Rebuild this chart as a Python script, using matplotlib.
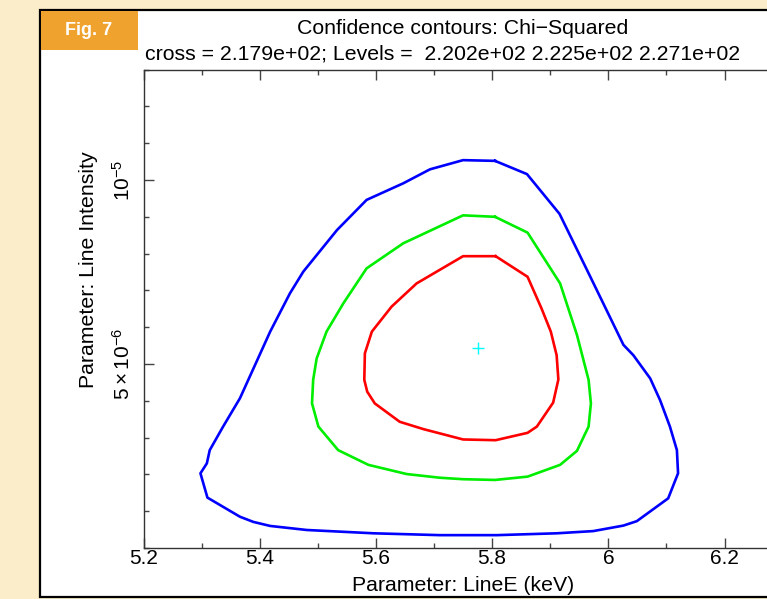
import numpy as np
import matplotlib
matplotlib.use("Agg")
import matplotlib.pyplot as plt
from matplotlib.patches import Rectangle
from matplotlib.ticker import FixedLocator, MultipleLocator

plt.rcParams['font.family'] = ['Liberation Sans', 'DejaVu Sans']
plt.rcParams['mathtext.fontset'] = 'custom'
plt.rcParams['mathtext.rm'] = 'Liberation Sans'
plt.rcParams['mathtext.it'] = 'Liberation Sans'

# contour lines (LineE in keV, intensity in 1e-6)
blue_x = [5.805, 5.750, 5.693, 5.647, 5.584, 5.533, 5.475, 5.452, 5.418, 5.366,
          5.337, 5.314, 5.309, 5.298, 5.310, 5.366, 5.389, 5.418, 5.481, 5.596,
          5.710, 5.808, 5.911, 5.974, 6.026, 6.049, 6.103, 6.120, 6.118, 6.106,
          6.089, 6.072, 6.043, 6.026, 5.969, 5.916, 5.860]
blue_y = [10.52, 10.54, 10.29, 9.91, 9.46, 8.64, 7.51, 6.92, 5.88, 4.07,
          3.30, 2.66, 2.30, 2.03, 1.37, 0.85, 0.71, 0.60, 0.49, 0.40,
          0.35, 0.35, 0.40, 0.46, 0.61, 0.73, 1.35, 2.03, 2.66, 3.30,
          4.02, 4.61, 5.24, 5.52, 7.37, 9.08, 10.16]

green_x = [5.805, 5.750, 5.647, 5.584, 5.544, 5.515, 5.498, 5.492, 5.490, 5.501,
           5.535, 5.587, 5.653, 5.710, 5.750, 5.805, 5.861, 5.917, 5.946, 5.966,
           5.970, 5.966, 5.946, 5.917, 5.861]
green_y = [9.00, 9.04, 8.28, 7.60, 6.65, 5.88, 5.15, 4.57, 3.93, 3.30,
           2.66, 2.26, 2.01, 1.91, 1.87, 1.85, 1.94, 2.26, 2.64, 3.30,
           3.93, 4.57, 5.79, 7.19, 8.57]

red_x = [5.806, 5.750, 5.670, 5.627, 5.593, 5.581, 5.580, 5.585, 5.598, 5.641,
         5.682, 5.750, 5.806, 5.861, 5.877, 5.905, 5.914, 5.911, 5.901, 5.885,
         5.861]
red_y = [7.93, 7.93, 7.19, 6.56, 5.88, 5.29, 4.57, 4.25, 3.93, 3.43,
         3.23, 2.95, 2.93, 3.13, 3.30, 3.95, 4.58, 5.24, 5.88, 6.51,
         7.37]

best_x = 5.776
best_y = 5.43

fig = plt.figure(figsize=(7.67, 5.99), dpi=100)
fig.patch.set_facecolor('#fbecca')

# white panel with black frame, kept behind the axes
fig.patches.append(Rectangle((0.0522, 0.0035), 1.0, 0.980, transform=fig.transFigure,
                             facecolor='white', edgecolor='black', lw=1.6, zorder=-5))
# orange "Fig. 7" tag
fig.patches.append(Rectangle((0.0535, 0.9165), 0.1265, 0.065, transform=fig.transFigure,
                             facecolor='#f0a22f', edgecolor='none', zorder=-4))
fig.text(0.115, 0.949, "Fig. 7", color='white', fontsize=13, fontweight='bold',
         ha='center', va='center')

ax = fig.add_axes([0.1871, 0.0851, 0.8333, 0.7987], zorder=2)
ax.set_facecolor('none')

def closed(a):
    return list(a) + [a[0]]

scale = 1e-6
ax.plot(closed(blue_x), np.array(closed(blue_y)) * scale, color='#0000ff', lw=1.9)
ax.plot(closed(green_x), np.array(closed(green_y)) * scale, color='#00ee00', lw=1.9)
ax.plot(closed(red_x), np.array(closed(red_y)) * scale, color='#ff0000', lw=1.9)
ax.plot([best_x], [best_y * scale], marker='+', color='cyan', ms=8, mew=1.0)

ax.set_xlim(5.2, 6.3)
ax.set_ylim(0, 1.3e-5)

ax.xaxis.set_major_locator(FixedLocator([5.2, 5.4, 5.6, 5.8, 6.0, 6.2]))
ax.xaxis.set_minor_locator(MultipleLocator(0.1))
ax.set_xticklabels(["5.2", "5.4", "5.6", "5.8", "6", "6.2"])
ax.yaxis.set_major_locator(FixedLocator([5e-6, 1e-5]))
ax.yaxis.set_minor_locator(MultipleLocator(1e-6))
ax.set_yticklabels([r"$5\times10^{-6}$", r"$10^{-5}$"], rotation=90, va='center')

ax.tick_params(which='both', direction='in', top=True, right=False, color='#444444',
               labelsize=15)
ax.tick_params(which='major', length=7, width=1.0)
ax.tick_params(which='minor', length=3.5, width=1.0)
ax.tick_params(axis='x', pad=1)
ax.tick_params(axis='y', pad=7)
for s in ax.spines.values():
    s.set_color('#333333')
    s.set_linewidth(1.0)

fs = 15.3
fig.text(0.6037, 0.952, "Confidence contours: Chi\u2212Squared", fontsize=fs,
         ha='center', va='center')
fig.text(0.189, 0.910, "cross = 2.179e+02; Levels =  2.202e+02 2.225e+02 2.271e+02",
         fontsize=fs, ha='left', va='center')
fig.text(0.6037, 0.023, "Parameter: LineE (keV)", fontsize=fs, ha='center', va='center')
fig.text(0.115, 0.55, "Parameter: Line Intensity", fontsize=fs, rotation=90,
         ha='center', va='center')

fig.savefig("out.png", dpi=100, facecolor=fig.get_facecolor())
